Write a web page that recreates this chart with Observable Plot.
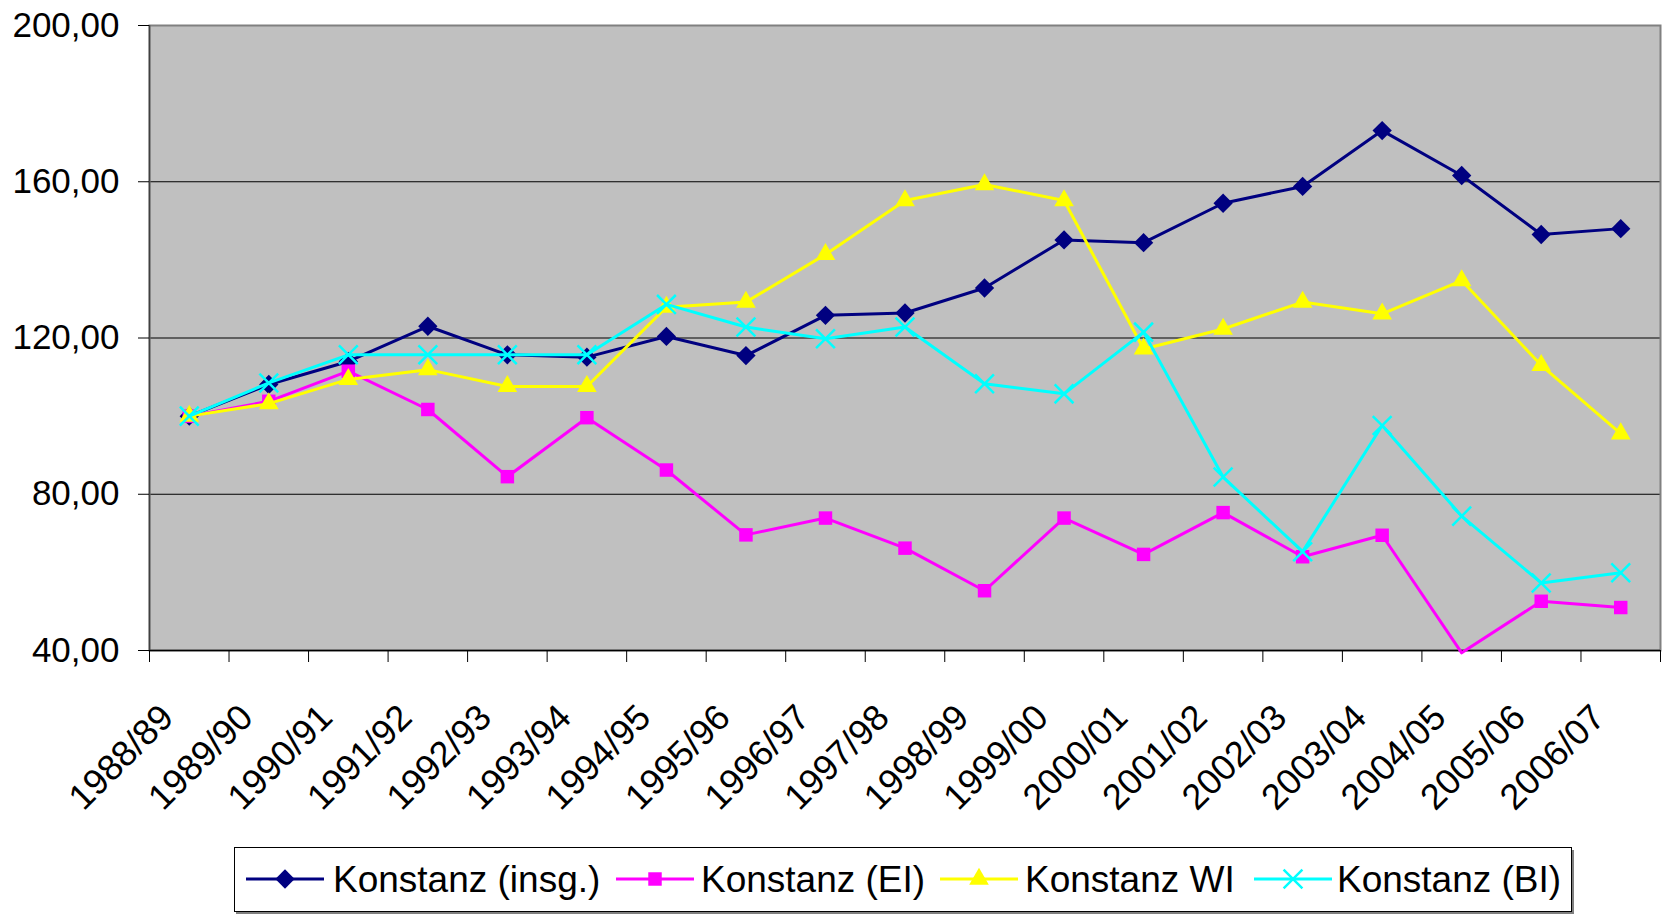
<!DOCTYPE html>
<html>
<head>
<meta charset="utf-8">
<script src="https://cdn.jsdelivr.net/npm/d3@7"></script>
<script src="https://cdn.jsdelivr.net/npm/@observablehq/plot@0.6"></script>
<style>
  html, body { margin: 0; padding: 0; background: #fff; }
  #chart { position: relative; width: 1666px; height: 915px; font-family: "Liberation Sans", Arial, sans-serif; }
  #chart svg { display: block; }
</style>
</head>
<body>
<div id="chart"></div>
<script>
const seasons = ["1988/89","1989/90","1990/91","1991/92","1992/93","1993/94","1994/95","1995/96","1996/97","1997/98","1998/99","1999/00","2000/01","2001/02","2002/03","2003/04","2004/05","2005/06","2006/07"];
const insg = [100,108.1,114,123,115.7,115.1,120.4,115.5,125.8,126.4,132.8,145.1,144.4,154.5,158.8,173.1,161.6,146.5,148];
const ei   = [100,103.8,111.5,101.7,84.5,99.6,86.2,69.6,73.9,66.2,55.3,73.9,64.6,75.3,64,69.5,39.4,52.6,51];
const wi   = [100,103.2,109.4,111.9,107.6,107.6,127.9,129.2,141.4,155.2,159.3,155.2,117.2,122.3,129.2,126.2,134.7,113,95.5];
const bi   = [100,108.5,115.7,115.7,115.7,115.7,128.6,122.8,119.8,122.8,108.3,105.7,121.5,84.4,65.3,97.6,74.4,57.3,59.9];
const seriesNames = ["Konstanz (insg.)","Konstanz (EI)","Konstanz WI","Konstanz (BI)"];
const seriesColors = ["#000080","#FF00FF","#FFFF00","#00FFFF"];
const seriesSymbols = ["diamond2","square","triangle","times"];
const yTicks = [40,80,120,160,200];
const gridValues = [80,120,160];

const allSeries = [insg, ei, wi, bi];
const tables = allSeries.map((vals, s) => vals.map((v, i) => ({i, season: seasons[i], value: v, series: seriesNames[s]})));

const symR = {diamond2: 8.7, square: 7.6, triangle: 7.3, times: 8.6};

const marks = [
  Plot.frame({fill: "#C0C0C0"}),
  Plot.ruleY(gridValues, {stroke: "#000", strokeWidth: 1}),
  Plot.frame({stroke: "#808080", strokeWidth: 2}),
  Plot.ruleY([40], {stroke: "#000", strokeWidth: 1.5}),
  Plot.ruleX([-0.5], {stroke: "#404040", strokeWidth: 1.5}),
  Plot.axisY({ticks: yTicks, tickFormat: d => d.toFixed(2).replace(".", ","), tickSize: 11, tickPadding: 19, label: null, fontSize: 35, stroke: "#000"}),
  Plot.axisX({ticks: d3.range(seasons.length + 1).map(k => k - 0.5), tickFormat: () => "", tickSize: 12, label: null}),
  Plot.axisX({ticks: d3.range(seasons.length), tickFormat: i => seasons[i], tickSize: 0, tickPadding: 61, tickRotate: -45, label: null, fontSize: 36, dx: -22})
];
tables.forEach((t, s) => {
  const sym = seriesSymbols[s];
  marks.push(Plot.line(t, {x: "i", y: "value", stroke: seriesColors[s], strokeWidth: 3}));
  const pts = t.filter(d => d.value >= 40);
  if (sym === "times") {
    marks.push(Plot.dot(pts, {x: "i", y: "value", symbol: sym, r: symR[sym], stroke: seriesColors[s], strokeWidth: 2.5, fill: "none"}));
  } else {
    marks.push(Plot.dot(pts, {x: "i", y: "value", symbol: sym, r: symR[sym], fill: seriesColors[s], stroke: "none"}));
  }
});

const chart = Plot.plot({
  width: 1666,
  height: 835,
  marginLeft: 149,
  marginRight: 6,
  marginTop: 25,
  marginBottom: 185,
  style: {fontFamily: "'Liberation Sans', Arial, sans-serif", fontSize: "34px", background: "#fff", color: "#000", overflow: "visible"},
  x: {domain: [-0.5, seasons.length - 0.5]},
  y: {domain: [40, 200]},
  marks
});
document.getElementById("chart").appendChild(chart);

// Legend below the chart
const leg = d3.select("#chart").append("svg").attr("width", 1666).attr("height", 80)
  .style("font-family", "'Liberation Sans', Arial, sans-serif");
leg.append("rect").attr("x", 236).attr("y", 15).attr("width", 1338).attr("height", 64).attr("fill", "#808080");
leg.append("rect").attr("x", 234.5).attr("y", 12.5).attr("width", 1337).attr("height", 64).attr("fill", "#fff").attr("stroke", "#000").attr("stroke-width", 1);
const sampleX = [246, 616, 940, 1254];
const textX = [333, 701, 1025, 1337];
const cy = 44;
const d3Sym = {diamond2: d3.symbolDiamond2, square: d3.symbolSquare, triangle: d3.symbolTriangle, times: d3.symbolTimes};
seriesNames.forEach((name, s) => {
  const g = leg.append("g");
  g.append("line").attr("x1", sampleX[s]).attr("x2", sampleX[s] + 78).attr("y1", cy).attr("y2", cy)
    .attr("stroke", seriesColors[s]).attr("stroke-width", 3);
  const sym = seriesSymbols[s];
  const path = d3.symbol(d3Sym[sym], Math.PI * symR[sym] * symR[sym])();
  const p = g.append("path").attr("d", path).attr("transform", `translate(${sampleX[s] + 39},${cy})`);
  if (sym === "times") p.attr("fill", "none").attr("stroke", seriesColors[s]).attr("stroke-width", 2.5);
  else p.attr("fill", seriesColors[s]);
  g.append("text").attr("x", textX[s]).attr("y", cy).attr("dy", "0.35em").attr("font-size", 37).attr("fill", "#000").text(name);
});
</script>
</body>
</html>
